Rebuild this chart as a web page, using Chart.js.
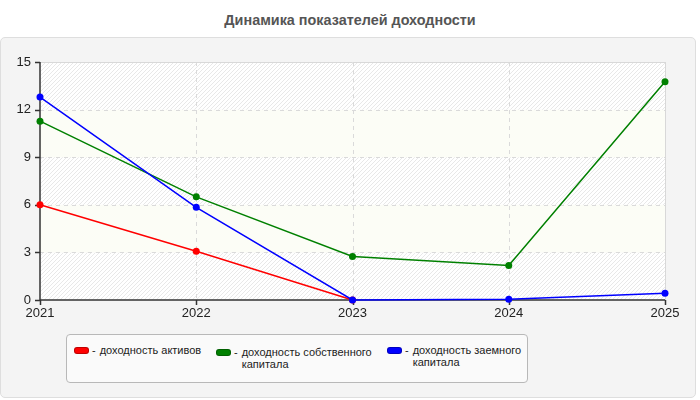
<!DOCTYPE html>
<html>
<head>
<meta charset="utf-8">
<script src="https://cdn.jsdelivr.net/npm/chart.js@4"></script>
<style>
  html,body{margin:0;padding:0;background:#fff;}
  #wrap{position:relative;width:700px;height:400px;overflow:hidden;font-family:"Liberation Sans",Arial,sans-serif;}
  #title{position:absolute;left:0;top:0;width:700px;height:37px;line-height:40px;text-align:center;font-weight:bold;font-size:14.4px;color:#555;}
  #panel{position:absolute;left:0;top:37px;width:694px;height:359px;background:#f4f4f4;border:1px solid #dedede;border-radius:5px;}
  #c{position:absolute;left:0;top:0;}
  #legend{position:absolute;left:66px;top:334px;width:460px;height:47px;border:1px solid #b8b8b8;border-radius:4px;background:#fafafa;}
  .item{position:absolute;display:flex;align-items:flex-start;font-size:11px;line-height:12px;color:#222;white-space:nowrap;}
  .sw{width:13px;height:5px;border-radius:3px;margin-top:3px;margin-right:3px;border:1px solid rgba(0,0,0,0.25);}
  .dash{margin-right:4px;}
</style>
</head>
<body>
<div id="wrap">
  <div id="title">Динамика показателей доходности</div>
  <div id="panel"></div>
  <canvas id="c" width="700" height="400"></canvas>
  <div id="legend"></div>
</div>
<script>
const years = ["2021", "2022", "2023", "2024", "2025"];
const assetsReturn = [6.0, 3.07, 0, null, null];
const equityReturn = [11.27, 6.5, 2.74, 2.18, 13.75];
const debtReturn = [12.79, 5.84, 0, 0.05, 0.42];
const seriesNames = ["доходность активов", "доходность собственного капитала", "доходность заемного капитала"];
const legendLines = [["доходность активов"], ["доходность собственного", "капитала"], ["доходность заемного", "капитала"]];
const seriesColors = ["#ff0000", "#008000", "#0000ff"];
const yTicks = [0, 3, 6, 9, 12, 15];

// hatch pattern
const pc = document.createElement('canvas');
pc.width = 4; pc.height = 4;
const pctx = pc.getContext('2d');
pctx.fillStyle = '#ffffff';
pctx.fillRect(0,0,4,4);
pctx.strokeStyle = '#e8e8e8';
pctx.lineWidth = 1;
pctx.beginPath();
pctx.moveTo(-1,5); pctx.lineTo(5,-1);
pctx.moveTo(-1,1); pctx.lineTo(1,-1);
pctx.moveTo(3,5); pctx.lineTo(5,3);
pctx.stroke();

const plotDeco = {
  id: 'plotDeco',
  beforeDatasetsDraw(chart) {
    const {ctx, chartArea: a, scales: {x, y}} = chart;
    ctx.save();
    const pattern = ctx.createPattern(pc, 'repeat');
    for (let i = 0; i < yTicks.length - 1; i++) {
      const y0 = y.getPixelForValue(yTicks[i]);
      const y1 = y.getPixelForValue(yTicks[i + 1]);
      ctx.fillStyle = (i % 2 === 0) ? pattern : '#fcfdf6';
      ctx.fillRect(a.left, y1, a.right - a.left, y0 - y1);
    }
    // dashed grid
    ctx.strokeStyle = '#dadada';
    ctx.lineWidth = 1;
    ctx.setLineDash([4, 4]);
    ctx.beginPath();
    yTicks.forEach(v => {
      if (v === 0 || v === 15) return;
      const py = Math.round(y.getPixelForValue(v)) + 0.5;
      ctx.moveTo(a.left, py); ctx.lineTo(a.right, py);
    });
    years.forEach((yr, i) => {
      if (i === 0 || i === years.length - 1) return;
      const px = Math.round(x.getPixelForValue(i)) + 0.5;
      ctx.moveTo(px, a.top); ctx.lineTo(px, a.bottom);
    });
    ctx.stroke();
    ctx.setLineDash([]);
    // light top/right border
    ctx.strokeStyle = '#d8d8d8';
    ctx.beginPath();
    ctx.moveTo(a.left, Math.round(a.top) + 0.5); ctx.lineTo(a.right + 0.5, Math.round(a.top) + 0.5);
    ctx.moveTo(Math.round(a.right) + 0.5, a.top); ctx.lineTo(Math.round(a.right) + 0.5, a.bottom);
    ctx.stroke();
    // dark axes + ticks
    ctx.strokeStyle = '#333';
    ctx.lineWidth = 1.5;
    ctx.beginPath();
    ctx.moveTo(a.left, a.top); ctx.lineTo(a.left, a.bottom); ctx.lineTo(a.right, a.bottom);
    yTicks.forEach(v => {
      const py = Math.round(y.getPixelForValue(v)) + 0.5;
      ctx.moveTo(a.left - 5, py); ctx.lineTo(a.left, py);
    });
    years.forEach((yr, i) => {
      const px = Math.round(x.getPixelForValue(i)) + 0.5;
      ctx.moveTo(px, a.bottom); ctx.lineTo(px, a.bottom + 5);
    });
    ctx.stroke();
    ctx.restore();
  }
};

const dataSets = [assetsReturn, equityReturn, debtReturn].map((d, i) => ({
  label: seriesNames[i],
  data: d,
  borderColor: seriesColors[i],
  backgroundColor: seriesColors[i],
  pointBackgroundColor: seriesColors[i],
  pointBorderColor: seriesColors[i],
  borderWidth: 1.5,
  pointRadius: 3.5,
  pointBorderWidth: 0,
  tension: 0,
  clip: false,
  spanGaps: false,
  order: 2 - i
}));

new Chart(document.getElementById('c'), {
  type: 'line',
  data: { labels: years, datasets: dataSets },
  options: {
    responsive: false,
    animation: false,
    devicePixelRatio: 1,
    layout: { padding: { top: 62, right: 35, left: 0, bottom: 0 } },
    plugins: { legend: { display: false }, title: { display: false }, tooltip: { enabled: false } },
    scales: {
      x: {
        offset: false,
        grid: { display: false, drawTicks: false },
        border: { display: false },
        ticks: { color: '#222', font: { family: 'Liberation Sans', size: 13 }, padding: 6, maxRotation: 0 },
        afterFit: s => { s.height = 100; }
      },
      y: {
        min: 0, max: 15,
        grid: { display: false, drawTicks: false },
        border: { display: false },
        ticks: { stepSize: 3, color: '#222', font: { family: 'Liberation Sans', size: 13 }, padding: 9 },
        afterFit: s => { s.width = 40; }
      }
    }
  },
  plugins: [plotDeco]
});

// HTML legend
const legendPos = [[74, 344], [216, 346], [387, 344]];
const legend = document.getElementById('legend');
legendLines.forEach((lines, i) => {
  const it = document.createElement('div');
  it.className = 'item';
  it.style.left = (legendPos[i][0] - 67) + 'px';
  it.style.top = (legendPos[i][1] - 335) + 'px';
  const sw = document.createElement('div');
  sw.className = 'sw';
  sw.style.background = seriesColors[i];
  const dash = document.createElement('span');
  dash.className = 'dash';
  dash.textContent = '-';
  const txt = document.createElement('div');
  txt.innerHTML = lines.join('<br>');
  it.appendChild(sw); it.appendChild(dash); it.appendChild(txt);
  legend.appendChild(it);
});
</script>
</body>
</html>
